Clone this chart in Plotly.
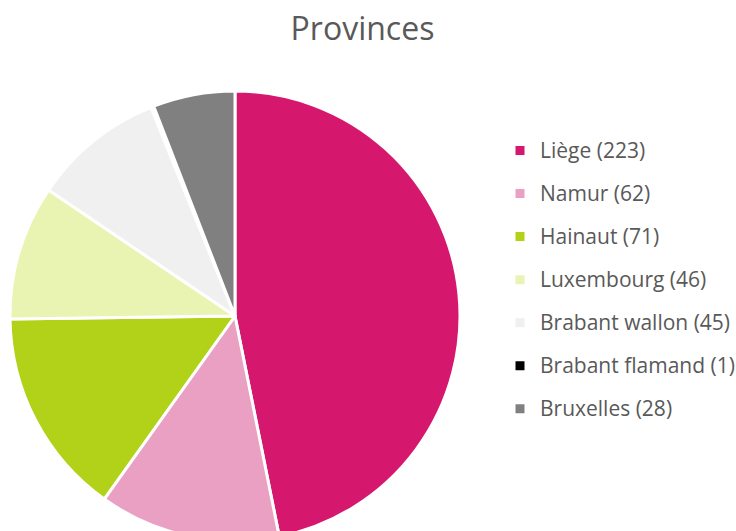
import plotly.graph_objects as go

provinces = ["Liège", "Namur", "Hainaut", "Luxembourg", "Brabant wallon", "Brabant flamand", "Bruxelles"]
counts = [223, 62, 71, 46, 45, 1, 28]
colors = ["#D5176D", "#EAA0C2", "#B2D21A", "#E9F4B3", "#F0F0F0", "#000000", "#808080"]

W, H = 736, 560
FONT = "'Open Sans', Lato, sans-serif"
TXT = "#595959"

# legend label text (values shown in brackets)
legend_labels = [
    f'<span style="font-size:11.9px"><sup><span style="font-size:21px">{p} ({c})</span></sup></span>'
    for p, c in zip(provinces, counts)
]

fig = go.Figure(
    go.Pie(
        labels=legend_labels,
        values=counts,
        marker=dict(colors=colors, line=dict(color="white", width=3)),
        sort=False,
        direction="clockwise",
        rotation=0,
        textinfo="none",
        hovertemplate="%{value}<extra></extra>",
        domain=dict(x=[10 / W, 460 / W], y=[(H - 541) / H, (H - 91) / H]),
    )
)

fig.update_layout(
    width=W,
    height=H,
    margin=dict(l=0, r=0, t=0, b=0, autoexpand=False),
    paper_bgcolor="white",
    font=dict(family=FONT, color=TXT),
    title=dict(
        text="Provinces",
        x=362.5 / W,
        xanchor="center",
        y=1 - 28.5 / H,
        yanchor="middle",
        font=dict(size=32, color=TXT, family=FONT),
    ),
    legend=dict(
        x=500 / W,
        xanchor="left",
        y=1 - 124 / H,
        yanchor="top",
        font=dict(size=30.8, color=TXT, family=FONT),
        itemwidth=30,
        bgcolor="rgba(0,0,0,0)",
    ),
    showlegend=True,
)

fig.write_html(
    "out.html",
    config={"displayModeBar": False},
    post_script="document.body.style.margin='0';document.body.style.overflow='hidden';",
)
